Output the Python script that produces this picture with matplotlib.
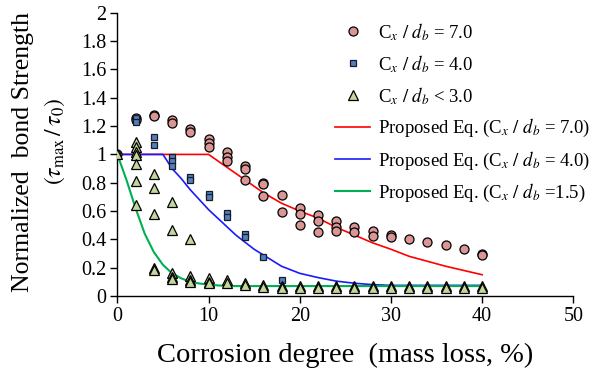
import matplotlib
matplotlib.use("Agg")
import matplotlib.pyplot as plt

plt.rcParams['font.family'] = ['Liberation Serif', 'DejaVu Serif']
plt.rcParams['mathtext.fontset'] = 'stix'

# ---- data ----
circle_x = [0, 2, 2, 4, 4, 6, 6, 8, 8, 10, 10, 10, 12, 12, 12, 14, 14, 14, 16, 16, 16,
            18, 18, 20, 20, 20, 22, 22, 22, 24, 24, 24, 26, 26, 28, 28, 30, 30, 32, 34, 36, 38, 40, 40]
circle_y = [1.0, 1.26, 1.24, 1.28, 1.27, 1.24, 1.22, 1.18, 1.155, 1.11, 1.08, 1.055, 1.02, 0.985, 0.95,
            0.92, 0.895, 0.82, 0.80, 0.79, 0.705, 0.71, 0.595, 0.62, 0.58, 0.50, 0.57, 0.53, 0.455,
            0.53, 0.49, 0.46, 0.49, 0.45, 0.46, 0.425, 0.43, 0.415, 0.40, 0.38, 0.36, 0.33, 0.30, 0.29]

square_x = [0, 2, 2, 4, 4, 6, 6, 6, 8, 8, 10, 10, 12, 12, 14, 14, 16, 18]
square_y = [1.0, 1.26, 1.23, 1.12, 1.065, 0.98, 0.95, 0.92, 0.84, 0.82, 0.72, 0.70, 0.585, 0.56,
            0.435, 0.42, 0.275, 0.115]

tri_x = [0, 2, 2, 2, 2, 2, 2, 2, 4, 4, 4, 4, 4, 6, 6, 6, 6, 6, 8, 8, 8, 8, 10, 10, 10,
         12, 12, 14, 14, 16, 16, 18, 18, 20, 20, 22, 22, 24, 24, 26, 26, 28, 28, 30, 30,
         32, 32, 34, 34, 36, 36, 38, 38, 40, 40]
tri_y = [1.0, 1.09, 1.05, 1.02, 0.995, 0.93, 0.81, 0.645, 0.865, 0.765, 0.58, 0.195, 0.18,
         0.665, 0.465, 0.165, 0.135, 0.12, 0.405, 0.14, 0.11, 0.10, 0.13, 0.10, 0.09,
         0.11, 0.09, 0.09, 0.075, 0.075, 0.06, 0.07, 0.055, 0.07, 0.055, 0.07, 0.055, 0.07, 0.055,
         0.07, 0.055, 0.07, 0.055, 0.07, 0.055, 0.07, 0.055, 0.07, 0.055, 0.07, 0.055, 0.07, 0.055,
         0.07, 0.055]

red_x = [0, 10, 12, 14, 16, 18, 20, 22, 24, 26, 28, 30, 32, 34, 36, 38, 40]
red_y = [1.0, 1.0, 0.91, 0.82, 0.73, 0.655, 0.60, 0.55, 0.485, 0.43, 0.375, 0.33, 0.28, 0.245, 0.21, 0.18, 0.15]

blue_x = [0, 5, 6, 7, 8, 9, 10, 11, 12, 13, 14, 15, 16, 17, 18, 19, 20, 22, 24, 26, 28, 30, 40]
blue_y = [1.0, 1.0, 0.90, 0.83, 0.75, 0.68, 0.61, 0.55, 0.49, 0.43, 0.38, 0.33, 0.29, 0.25, 0.21,
          0.185, 0.16, 0.13, 0.105, 0.09, 0.08, 0.075, 0.075]

green_x = [0, 1, 2, 3, 4, 5, 6, 7, 8, 9, 10, 11, 12, 40]
green_y = [1.0, 0.82, 0.62, 0.44, 0.31, 0.22, 0.16, 0.125, 0.10, 0.088, 0.08, 0.075, 0.07, 0.07]

labels = [r"C$_x\ /\ d_b$ = 7.0", r"C$_x\ /\ d_b$ = 4.0", r"C$_x\ /\ d_b$ < 3.0",
          r"Proposed Eq. (C$_x\ /\ d_b$ = 7.0)",
          r"Proposed Eq. (C$_x\ /\ d_b$ = 4.0)",
          r"Proposed Eq. (C$_x\ /\ d_b$ =1.5)"]
yticks = [0, 0.2, 0.4, 0.6, 0.8, 1, 1.2, 1.4, 1.6, 1.8, 2]
ytick_labels = ["0", "0.2", "0.4", "0.6", "0.8", "1", "1.2", "1.4", "1.6", "1.8", "2"]
xticks = [0, 10, 20, 30, 40, 50]

fig = plt.figure(figsize=(6.08, 3.78), dpi=100)
ax = fig.add_axes([0.193, 0.217, 0.750, 0.749])

h1, = ax.plot(circle_x, circle_y, 'o', ms=6.5, mfc='#d99694', mec='black', mew=0.9, label=labels[0], zorder=3)
h2, = ax.plot(square_x, square_y, 's', ms=4.4, mfc='#4f81bd', mec='#1a1a2a', mew=0.9, label=labels[1], zorder=4)
h3, = ax.plot(tri_x, tri_y, '^', ms=6.5, mfc='#c3d69b', mec='black', mew=0.9, label=labels[2], zorder=5)
h4, = ax.plot(red_x, red_y, '-', color='#ff0000', lw=1.2, label=labels[3], zorder=2)
h5, = ax.plot(blue_x, blue_y, '-', color='#1a1aff', lw=1.2, label=labels[4], zorder=2)
h6, = ax.plot(green_x, green_y, '-', color='#00b050', lw=1.5, label=labels[5], zorder=2)

ax.set_xlim(0, 50)
ax.set_ylim(0, 2)
ax.set_xticks(xticks)
ax.set_yticks(yticks)
ax.set_yticklabels(ytick_labels)
ax.tick_params(direction='out', length=5, width=1, labelsize=14.5, pad=3)
for s in ['top', 'right']:
    ax.spines[s].set_visible(False)
for s in ['left', 'bottom']:
    ax.spines[s].set_linewidth(1.0)

ax.set_xlabel("Corrosion degree  (mass loss, %)", fontsize=20.5, labelpad=12)
fig.text(0.038, 0.598, "Normalized  bond Strength", rotation=90, fontsize=18.5, ha='center', va='center')
fig.text(0.09, 0.627, r"$(\tau_{\mathrm{max}}\,/\,\tau_0)$", rotation=90, fontsize=17, ha='center', va='center')

leg = ax.legend(handles=[h1, h2, h3, h4, h5, h6], loc='upper left',
                bbox_to_anchor=(335 / 608, 1 - 21 / 378), bbox_transform=fig.transFigure,
                frameon=False, fontsize=13.5, numpoints=1, handlelength=1.87,
                handletextpad=0.43, labelspacing=0.55, borderpad=0, borderaxespad=0)

fig.savefig("out.png", dpi=100)
